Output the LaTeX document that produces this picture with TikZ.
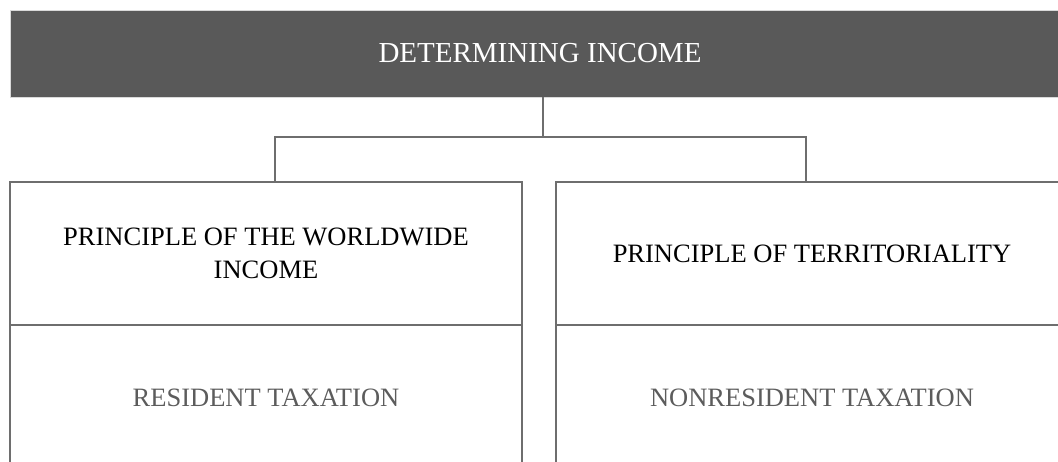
\documentclass[tikz,border=0pt]{standalone}
\usepackage{fontspec}
\setmainfont{Liberation Serif}
\definecolor{barfill}{HTML}{595959}
\definecolor{linegray}{HTML}{6E6E6E}
\definecolor{textgray}{HTML}{5C5C5C}
\begin{document}
\begin{tikzpicture}[x=1pt, y=-1pt,
  bar/.style={rectangle, fill=barfill, draw=black!15, line width=0.8pt,
              minimum width=1060pt, minimum height=87pt, text=white,
              font=\fontsize{29}{35}\selectfont},
  cell/.style={rectangle, draw=linegray, line width=1.9pt, minimum width=512pt,
               inner sep=0pt, align=center, font=\fontsize{26.5}{33}\selectfont},
  link/.style={draw=linegray, line width=1.9pt}
]
  \clip (0,0) rectangle (1058,461);

  % Title bar
  \node[bar] (incomebar) at (540,53.5) {DETERMINING INCOME};

  % Left column
  \node[cell, minimum height=143pt] (worldwide) at (266,253.5)
        {PRINCIPLE OF THE WORLDWIDE\\INCOME};
  \node[cell, minimum height=145pt, text=textgray] (resident) at (266,397.5)
        {RESIDENT TAXATION};

  % Right column
  \node[cell, minimum height=143pt] (territory) at (812,253.5)
        {PRINCIPLE OF TERRITORIALITY};
  \node[cell, minimum height=145pt, text=textgray] (nonresident) at (812,397.5)
        {NONRESIDENT TAXATION};

  % Connectors
  \coordinate (fork) at (543,137);
  \draw[link] (incomebar.south -| fork) -- (fork);
  \draw[link] ([xshift=9pt]worldwide.north) |- (fork) -| ([xshift=-6pt]territory.north);
\end{tikzpicture}
\end{document}
